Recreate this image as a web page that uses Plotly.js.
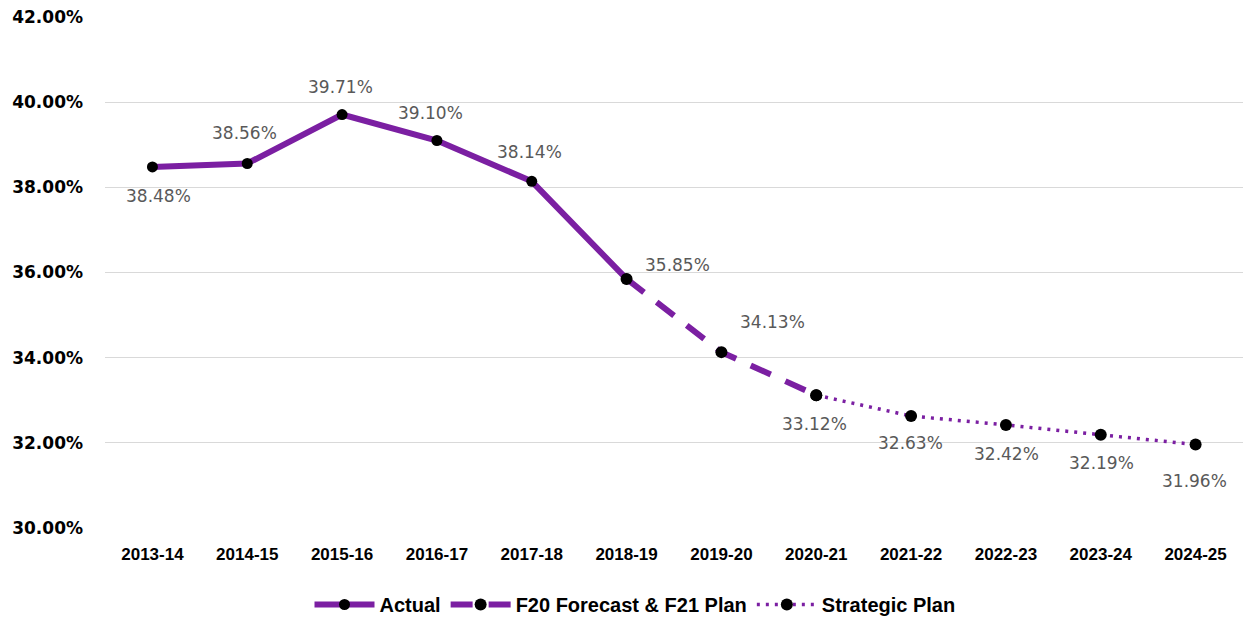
<!DOCTYPE html>
<html>
<head>
<meta charset="utf-8">
<script src="https://cdn.plot.ly/plotly-3.0.1.min.js"></script>
<style>html,body{margin:0;padding:0;background:#fff;}#chart{width:1251px;height:620px;}</style>
</head>
<body>
<div id="chart"></div>
<script>
const categories = ["2013-14","2014-15","2015-16","2016-17","2017-18","2018-19","2019-20","2020-21","2021-22","2022-23","2023-24","2024-25"];
const actualCats = categories.slice(0, 6);
const actualValues = [38.48, 38.56, 39.71, 39.10, 38.14, 35.85];
const forecastCats = categories.slice(5, 8);
const forecastValues = [35.85, 34.13, 33.12];
const strategicCats = categories.slice(7, 12);
const strategicValues = [33.12, 32.63, 32.42, 32.19, 31.96];
const labelValues = [38.48, 38.56, 39.71, 39.10, 38.14, 35.85, 34.13, 33.12, 32.63, 32.42, 32.19, 31.96];
const yTickValues = [30, 32, 34, 36, 38, 40, 42];
const yTickLabels = ["30.00%","32.00%","34.00%","36.00%","38.00%","40.00%","42.00%"];

// label offsets in pixels (style)
const labelDx = [6, -3, -2, -6, -2, 51, 51, -2, -1, 1, 1, -1];
const labelDy = [29, -30, -28, -27, -29, -14, -30, 29, 27, 29, 28, 36];

const purple = '#7B1FA2';

const traces = [
  {x: actualCats, y: actualValues, name: 'Actual', type: 'scatter', mode: 'lines+markers',
   line: {color: purple, width: 6}, marker: {color: '#000', size: 11}},
  {x: forecastCats, y: forecastValues, name: 'F20 Forecast & F21 Plan', type: 'scatter', mode: 'lines+markers',
   line: {color: purple, width: 6, dash: '22px,16px'}, marker: {color: '#000', size: 12}},
  {x: strategicCats, y: strategicValues, name: 'Strategic Plan', type: 'scatter', mode: 'lines+markers',
   line: {color: purple, width: 3.5, dash: '3px,6px'}, marker: {color: '#000', size: 12}}
];

const annotations = categories.map((c, i) => ({
  x: i, y: labelValues[i], xref: 'x', yref: 'y',
  text: labelValues[i].toFixed(2) + '%', showarrow: false,
  xshift: labelDx[i], yshift: -labelDy[i],
  font: {family: 'DejaVu Sans', size: 17, color: '#595959'}
}));

const layout = {
  width: 1251, height: 620,
  margin: {l: 105, r: 8, t: 17, b: 92},
  paper_bgcolor: '#fff', plot_bgcolor: '#fff',
  showlegend: true,
  legend: {orientation: 'h', xref: 'container', x: 0.5076, xanchor: 'center', yref: 'container', y: 0.025, yanchor: 'middle',
           font: {family: 'Liberation Sans', size: 20, color: '#000', weight: 'bold'}, itemwidth: 60},
  xaxis: {type: 'category', categoryarray: categories, range: [-0.5, 11.5], showgrid: false, zeroline: false,
          showline: false, ticks: '', ticklabelstandoff: 14,
          tickfont: {family: 'Liberation Sans', size: 17, color: '#000', weight: 'bold'}},
  yaxis: {range: [30, 42], tickvals: yTickValues, ticktext: yTickLabels, showgrid: true, gridcolor: '#d9d9d9', gridwidth: 1,
          zeroline: false, showline: false, ticks: '', ticklabelstandoff: 21,
          tickfont: {family: 'DejaVu Sans', size: 17, color: '#000', weight: 'bold'}},
  annotations: annotations,
  hovermode: false
};

Plotly.newPlot('chart', traces, layout, {displayModeBar: false, staticPlot: true});
</script>
</body>
</html>
